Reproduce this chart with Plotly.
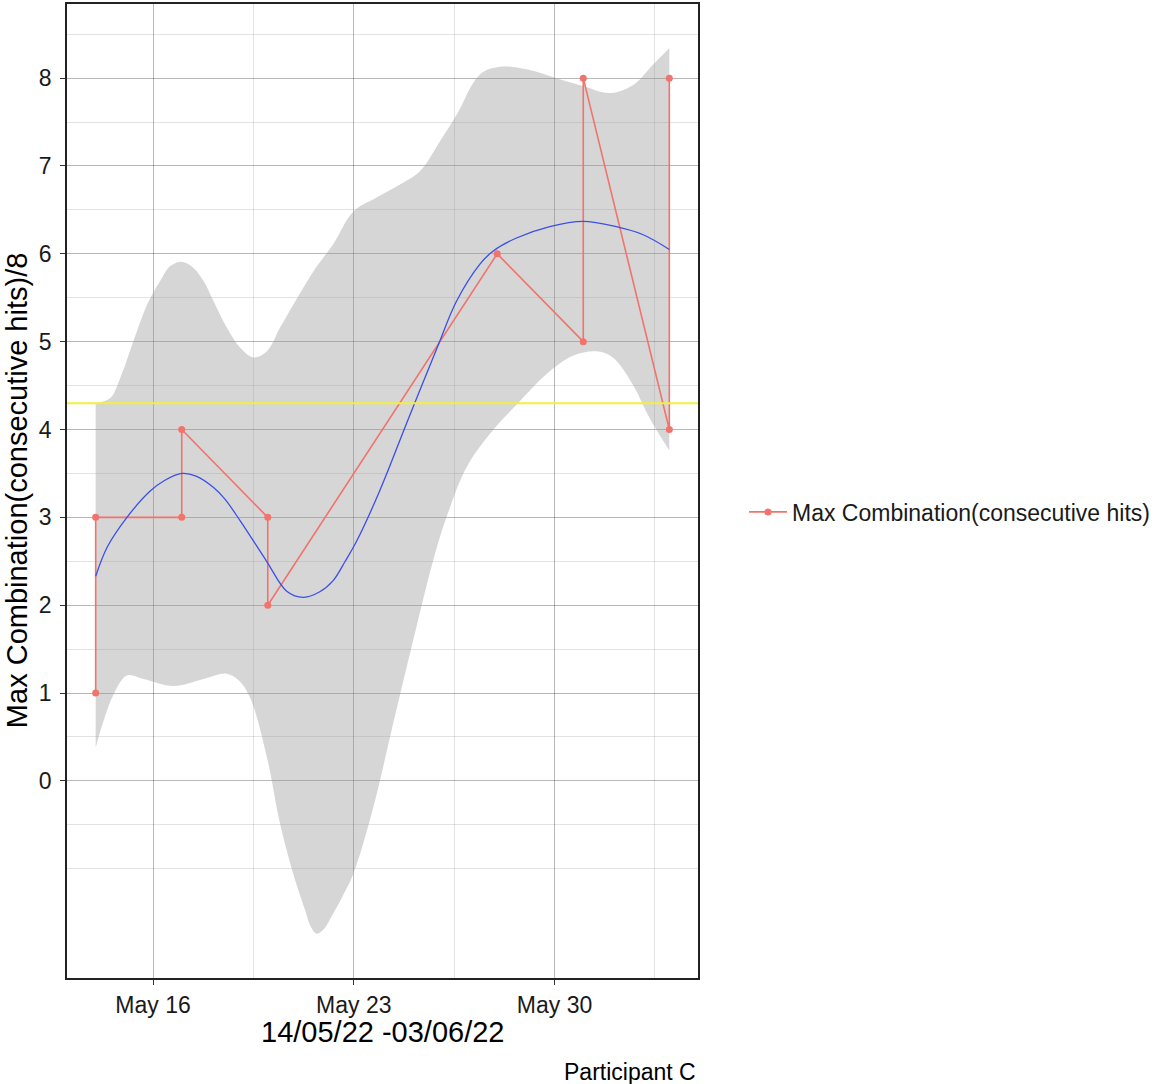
import pandas as pd
import plotly.graph_objects as go

# Observed maximum combination per session
session_dates = ["2022-05-14", "2022-05-14", "2022-05-17", "2022-05-17", "2022-05-20",
                 "2022-05-20", "2022-05-28", "2022-05-31", "2022-05-31", "2022-06-03",
                 "2022-06-03"]
max_combo = [1, 3, 3, 4, 3, 2, 6, 5, 8, 4, 8]

# Smoothed trend (days since first session) and its confidence band
fit_day = [0, 0.4, 1.09, 1.9, 2.4, 3.0, 3.5, 4.11, 4.5, 5.04, 5.96, 6.66, 7.24, 7.8,
           8.28, 8.7, 9.1, 9.9, 10.9, 11.94, 12.58, 13.39, 13.85, 14.67, 15.83, 16.99,
           18.15, 19.07, 20]
fit_val = [2.33, 2.66, 3.0, 3.30, 3.42, 3.50, 3.47, 3.34, 3.21, 2.96, 2.50, 2.16, 2.09,
           2.15, 2.28, 2.50, 2.73, 3.30, 4.12, 4.96, 5.46, 5.88, 6.03, 6.18, 6.31, 6.37,
           6.31, 6.22, 6.05]

upper_day = [0, 0.51, 0.86, 1.32, 1.79, 2.25, 2.6, 3.0, 3.41, 3.76, 4.11, 4.57, 5.04,
             5.5, 5.97, 6.43, 6.89, 7.59, 8.28, 8.98, 9.79, 10.61, 11.3, 12.0, 12.58,
             13.39, 14.09, 15.02, 16.06, 16.99, 17.91, 18.73, 19.42, 20]
upper_val = [4.30, 4.36, 4.59, 5.01, 5.42, 5.69, 5.86, 5.91, 5.84, 5.69, 5.46, 5.16,
             4.93, 4.82, 4.89, 5.16, 5.42, 5.80, 6.11, 6.48, 6.64, 6.79, 6.94, 7.28, 7.58,
             8.04, 8.13, 8.10, 8.0, 7.91, 7.83, 7.92, 8.15, 8.34]

lower_day = [0, 0.28, 0.63, 1.09, 1.67, 2.71, 3.76, 4.57, 5.0, 5.38, 5.97, 6.43, 6.89,
             7.3, 7.5, 7.71, 7.95, 8.28, 8.63, 8.98, 9.68, 10.37, 11.07, 11.76, 12.23,
             12.93, 13.74, 14.78, 15.71, 16.64, 17.45, 18.03, 18.73, 19.31, 20]
lower_val = [0.38, 0.69, 0.99, 1.20, 1.16, 1.08, 1.16, 1.22, 1.14, 0.95, 0.27, -0.49,
             -1.06, -1.47, -1.66, -1.74, -1.69, -1.51, -1.30, -1.06, -0.30, 0.65, 1.60,
             2.50, 3.0, 3.57, 3.95, 4.32, 4.63, 4.84, 4.89, 4.82, 4.51, 4.13, 3.76]

reference_level = 4.3

y_ticks = [0, 1, 2, 3, 4, 5, 6, 7, 8]
y_minor = [-1, -0.5, 0.5, 1.5, 2.5, 3.5, 4.5, 5.5, 6.5, 7.5, 8.5]
x_ticks = ["2022-05-16", "2022-05-23", "2022-05-30"]
x_minor = ["2022-05-19 12:00", "2022-05-26 12:00", "2022-06-02 12:00"]

FONT = "Liberation Sans, Arial, Helvetica, sans-serif"

start = pd.Timestamp(session_dates[0])


def to_dates(days):
    return [start + pd.to_timedelta(d, unit="D") for d in days]


dates = pd.to_datetime(session_dates)
span = (dates.max() - dates.min())
x_range = [dates.min() - span * 0.05, dates.max() + span * 0.05]
y_lo, y_hi = min(lower_val), max(upper_val)
pad = (y_hi - y_lo) * 0.05
y_range = [y_lo - pad, y_hi + pad]

fig = go.Figure()

# Confidence band
fig.add_trace(go.Scatter(x=to_dates(upper_day), y=upper_val, mode="lines",
                         line=dict(width=0, shape="spline", smoothing=1.0),
                         hoverinfo="skip", showlegend=False))
fig.add_trace(go.Scatter(x=to_dates(lower_day), y=lower_val, mode="lines",
                         line=dict(width=0, shape="spline", smoothing=1.0),
                         fill="tonexty", fillcolor="rgba(153,153,153,0.4)",
                         hoverinfo="skip", showlegend=False))

# Observed series
fig.add_trace(go.Scatter(x=dates, y=max_combo, mode="lines+markers",
                         name="Max Combination(consecutive hits)",
                         line=dict(color="#F0736C", width=1.6),
                         marker=dict(color="#F0736C", size=7)))

# Trend line
fig.add_trace(go.Scatter(x=to_dates(fit_day), y=fit_val, mode="lines",
                         line=dict(color="#3A4FE8", width=1.3, shape="spline", smoothing=1.0),
                         showlegend=False))

# Reference level
fig.add_shape(type="line", xref="paper", x0=0, x1=1, yref="y",
              y0=reference_level, y1=reference_level,
              line=dict(color="#F2F03A", width=2))

fig.update_layout(
    width=1166, height=1084,
    margin=dict(l=67, r=468, t=2, b=106),
    paper_bgcolor="white", plot_bgcolor="white",
    font=dict(family=FONT, color="#1a1a1a", size=23),
    legend=dict(xref="container", yref="container", x=0.6381, y=0.5277,
                xanchor="left", yanchor="middle", itemwidth=38,
                font=dict(size=23, color="#1a1a1a"), bgcolor="rgba(0,0,0,0)"),
    xaxis=dict(range=x_range, tickvals=x_ticks, tickformat="%b %d",
               showgrid=True, gridcolor="rgba(0,0,0,0.28)", gridwidth=1,
               minor=dict(tickvals=x_minor, showgrid=True,
                          gridcolor="rgba(0,0,0,0.11)", gridwidth=1, ticks=""),
               ticks="outside", ticklen=5, tickcolor="#333", tickwidth=1.3,
               tickfont=dict(size=23, color="#1a1a1a"), ticklabelstandoff=1,
               showline=True, mirror=True, linecolor="#222", linewidth=1.6,
               zeroline=False),
    yaxis=dict(range=y_range, tickvals=y_ticks,
               showgrid=True, gridcolor="rgba(0,0,0,0.28)", gridwidth=1,
               minor=dict(tickvals=y_minor, showgrid=True,
                          gridcolor="rgba(0,0,0,0.11)", gridwidth=1, ticks=""),
               ticks="outside", ticklen=5, tickcolor="#333", tickwidth=1.3,
               tickfont=dict(size=23, color="#1a1a1a"), ticklabelstandoff=4,
               showline=True, mirror=True, linecolor="#222", linewidth=1.6,
               zeroline=False),
    annotations=[
        dict(text="14/05/22 -03/06/22", xref="paper", yref="paper", x=0.5, y=-0.0553,
             xanchor="center", yanchor="middle", showarrow=False,
             font=dict(size=29, color="#000")),
        dict(text="Max Combination(consecutive hits)/8", xref="paper", yref="paper",
             x=-0.079, y=0.5, xanchor="center", yanchor="middle", textangle=-90,
             showarrow=False, font=dict(size=29, color="#000")),
        dict(text="Participant C", xref="paper", yref="paper", x=1.0, y=-0.097,
             xanchor="right", yanchor="middle", showarrow=False,
             font=dict(size=23, color="#000")),
    ],
)

fig.write_html("out.html")
